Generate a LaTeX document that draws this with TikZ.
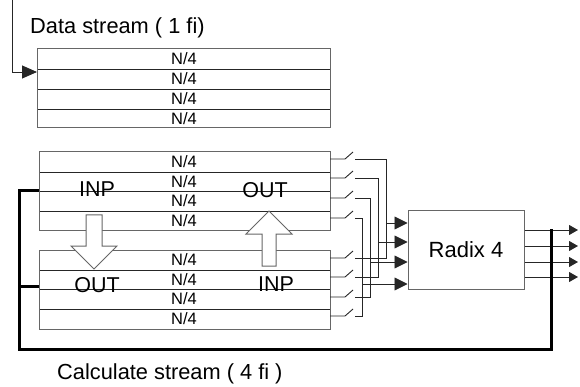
\documentclass[tikz,border=0pt]{standalone}
\usepackage{fontspec}
\setmainfont{Liberation Sans}
\usetikzlibrary{arrows.meta}
\begin{document}
\begin{tikzpicture}[x=1pt,y=-1pt,
  wire/.style={line width=0.9pt, draw=black!85},
  frame/.style={line width=1pt, draw=black!60},
  cell/.style={font=\fontsize{16.5}{16.5}\selectfont, inner sep=0pt},
  big/.style={font=\fontsize{21.5}{21.5}\selectfont, inner sep=0pt},
  title/.style={font=\fontsize{21.8}{21.8}\selectfont, inner sep=0pt},
  bus/.style={line width=3pt, draw=black},
  hollow/.style={line width=1pt, draw=black!60, fill=white},
  bigtip/.style={-{Triangle[length=13pt,width=13pt]}},
  smalltip/.style={-{Triangle[length=9pt,width=10pt]}}
]
\useasboundingbox (0,0) rectangle (580,387);

% Data stream block
\foreach \y in {69,89,109} \draw[wire] (37,\y) -- (330,\y);
\draw[frame] (37,49) rectangle (330,128);
\foreach \y [count=\i] in {59,79,99,118.5} \node[cell] (d\i) at (184,\y) {N/4};
\coordinate (dsin) at (12,0);
\coordinate (dsrow) at (37,72);
\draw[wire, -{Triangle[length=15pt,width=13pt]}] (dsin) |- (dsrow);
\node[title, anchor=base west] (dstitle) at (30,34) {Data stream ( 1 fi)};

% Calculate blocks
\foreach \y in {172,191,211} \draw[wire] (39,\y) -- (330,\y);
\draw[frame] (39,152) rectangle (330,230);
\foreach \y [count=\i] in {162,181.5,201,220.5} \node[cell] (p\i) at (184,\y) {N/4};
\foreach \y in {270,289,309} \draw[wire] (39,\y) -- (330,\y);
\draw[frame] (39,250) rectangle (330,329);
\foreach \y [count=\i] in {260,279.5,299,319} \node[cell] (q\i) at (184,\y) {N/4};

% hollow arrows
\draw[hollow] (86,215) -- (102,215) -- (102,246) -- (117,246) -- (94,269) -- (71,246) -- (86,246) -- cycle;
\draw[hollow] (262,266) -- (276,266) -- (276,234) -- (292,234) -- (269,211) -- (246,234) -- (262,234) -- cycle;

\node[big] (inp1) at (97,189) {INP};
\node[big] (out1) at (265,190) {OUT};
\node[big] (out2) at (97,285) {OUT};
\node[big] (inp2) at (276,284) {INP};

% Radix
\node[frame, minimum width=116pt, minimum height=78pt, inner sep=0pt,
      font=\fontsize{22}{22}\selectfont] (radix) at (466,250) {Radix 4};

% switches and wiring
\foreach \ya/\yb/\xv/\yr [count=\i] in {159/258/386/223, 178/277/378/242, 198/297/370/262, 218/316/362/284} {
  \draw[wire] (330,\ya) -- (345,\ya) -- (353,\ya-7);
  \draw[wire] (330,\yb) -- (345,\yb) -- (353,\yb-7);
  \draw[wire] (355,\ya) -- (\xv,\ya) -- (\xv,\yb) -- (355,\yb);
  \coordinate (in\i) at (\xv,\yr);
  \draw[wire, bigtip] (in\i) -- (radix.west |- in\i);
}

% outputs
\foreach \y [count=\i] in {230,246,262,277} {
  \coordinate (o\i) at (578,\y);
  \draw[wire, smalltip] (radix.east |- o\i) -- (o\i);
}

% feedback bus
\coordinate (fb1) at (39,191);
\coordinate (fb2) at (39,286);
\coordinate (fbtop) at (551,229);
\draw[bus] (fb1) -- (19,191) -- (19,349) -- (551,349) -- (fbtop);
\draw[bus] (19,286) -- (fb2);

\node[title, anchor=base west] (cstitle) at (57,379) {Calculate stream ( 4 fi )};
\end{tikzpicture}
\end{document}
